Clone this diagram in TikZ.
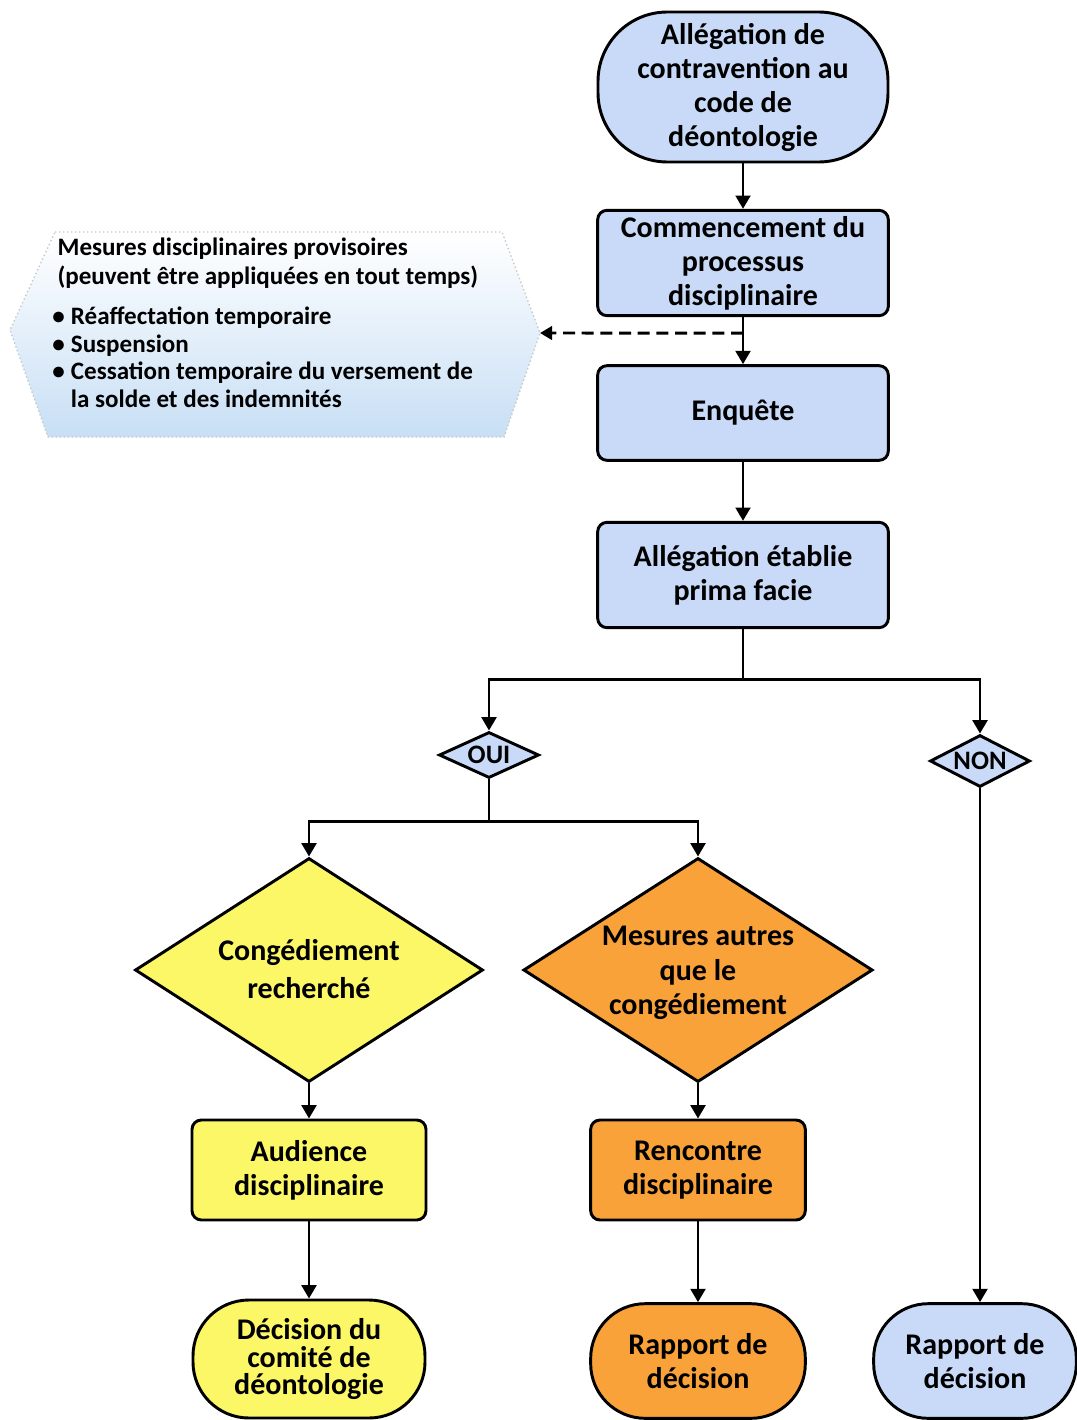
\documentclass[tikz,border=0pt]{standalone}
\usepackage{fontspec}
\setmainfont{Carlito}
\usetikzlibrary{shapes.geometric,arrows.meta,calc}
\definecolor{fblue}{HTML}{C9DAF8}
\definecolor{fyellow}{HTML}{FCF767}
\definecolor{forange}{HTML}{F9A23A}
\definecolor{hexblue}{HTML}{C8DFF5}
\begin{document}
\begin{tikzpicture}[x=0.75pt,y=-0.75pt,
  txt/.style={align=center,font=\bfseries\fontsize{22.5}{25.5}\selectfont,inner sep=0pt},
  box/.style={txt,draw=black,line width=2.2pt,rounded corners=7pt},
  term/.style={txt,draw=black,line width=2.2pt},
  dia/.style={diamond,draw=black,line width=2.2pt,inner sep=0pt},
  arr/.style={line width=2.2pt,-{Triangle[width=11pt,length=10pt]}},
  ln/.style={line width=2.2pt}]
\path[use as bounding box,fill=white] (0,0) rectangle (1076,1420);

% hexagon (interim measures)
\coordinate (hexE) at (540,333);
\shade[top color=white,bottom color=hexblue] (55,232) -- (502,232) -- (hexE) -- (504,437) -- (48,437) -- (10,330) -- cycle;
\draw[gray!45,dotted,line width=1pt] (55,232) -- (502,232) -- (hexE) -- (504,437) -- (48,437) -- (10,330) -- cycle;
\node[anchor=north west,align=left,inner sep=0pt,font=\bfseries\fontsize{18.8}{21.5}\selectfont] (hextxt) at (52,238)
 {\hspace{4pt}Mesures disciplinaires provisoires\\
  \hspace{4pt}(peuvent être appliquées en tout temps)\\[8.5pt]
  \makebox[14pt][l]{•}Réaffectation temporaire\\[-0.6pt]
  \makebox[14pt][l]{•}Suspension\\[-1.2pt]
  \makebox[14pt][l]{•}Cessation temporaire du versement de\\[-0.6pt]
  \hspace{14pt}la solde et des indemnités};

% main column
\node[term,fill=fblue,minimum width=217.5pt,minimum height=112.5pt,rounded corners=52pt] (start) at (743,87)
 {Allégation de\\contravention au\\code de\\déontologie};
\node[box,fill=fblue,minimum width=218pt,minimum height=79pt] (comm) at (743,263)
 {Commencement du\\processus\\disciplinaire};
\node[box,fill=fblue,minimum width=218pt,minimum height=71pt] (enq) at (743,413) {Enquête};
\node[box,fill=fblue,minimum width=218pt,minimum height=79pt] (etab) at (743,575)
 {Allégation établie\\prima facie};

% decisions
\node[dia,fill=fblue,minimum width=75pt,minimum height=34.5pt] (oui) at (489,755) {};
\node[txt,font=\bfseries\fontsize{20}{22}\selectfont] (ouiT) at (oui) {OUI};
\node[dia,fill=fblue,minimum width=75pt,minimum height=39pt] (non) at (980,761) {};
\node[txt,font=\bfseries\fontsize{20}{22}\selectfont] (nonT) at (non) {NON};

\node[dia,fill=fyellow,minimum width=261pt,minimum height=168pt] (conge) at (309,970) {};
\node[txt,font=\bfseries\fontsize{22.5}{28.5}\selectfont] (congeT) at (309,969) {Congédiement\\recherché};
\node[dia,fill=forange,minimum width=262pt,minimum height=168pt] (mes) at (698,970) {};
\node[txt,font=\bfseries\fontsize{22.5}{26}\selectfont] (mesT) at (698,973) {Mesures autres\\que le\\congédiement};

\node[box,fill=fyellow,minimum width=175.5pt,minimum height=75pt] (aud) at (309,1170) {Audience\\disciplinaire};
\node[box,fill=forange,minimum width=161pt,minimum height=75pt] (ren) at (698,1170) {Rencontre\\disciplinaire};

\node[term,fill=fyellow,minimum width=174pt,minimum height=88.5pt,rounded corners=42pt,font=\bfseries\fontsize{22.5}{20.5}\selectfont] (dec) at (309,1359)
 {Décision du\\comité de\\déontologie};
\node[term,fill=forange,minimum width=161pt,minimum height=86pt,rounded corners=41pt] (rap1) at (698,1361) {Rapport de\\décision};
\node[term,fill=fblue,minimum width=152pt,minimum height=86pt,rounded corners=41pt] (rap2) at (975,1361) {Rapport de\\décision};

% connectors
\draw[arr] (start.south) -- (comm.north);
\coordinate (dj) at ($(comm.south)!0.34!(enq.north)$);
\draw[arr] (comm.south) -- (enq.north);
\draw[line width=2.2pt,dashed,dash pattern=on 9pt off 5pt,-{Triangle[width=10pt,length=9pt]}] (dj) -- (hexE);
\draw[arr] (enq.south) -- (etab.north);
\coordinate (br1) at ($(etab.south)+(0,50)$);
\draw[arr] (etab.south) -- (br1) -| (oui.north);
\draw[arr] (br1) -| (non.north);
\coordinate (br2) at ($(oui.south)+(0,42)$);
\draw[arr] (oui.south) -- (br2) -| (conge.north);
\draw[arr] (br2) -| (mes.north);
\draw[arr] (conge.south) -- (aud.north);
\draw[arr] (mes.south) -- (ren.north);
\draw[arr] (aud.south) -- (dec.north);
\draw[arr] (ren.south) -- (rap1.north);
\draw[arr] (non.south) -- (non.south |- rap2.north);
\end{tikzpicture}
\end{document}
